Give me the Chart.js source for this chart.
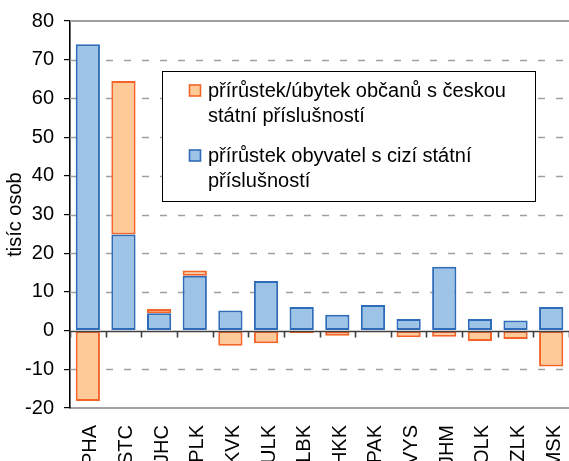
<!DOCTYPE html>
<html><head><meta charset="utf-8">
<script src="https://cdn.jsdelivr.net/npm/chart.js@4"></script>
<style>html,body{margin:0;padding:0;background:#fff;overflow:hidden}</style>
</head><body>
<canvas id="c" width="569" height="461" style="display:block;width:569px;height:461px"></canvas>
<script>
// ---- data ----
const categories = ['PHA','STC','JHC','PLK','KVK','ULK','LBK','HKK','PAK','VYS','JHM','OLK','ZLK','MSK'];
const foreignValues = [74.0, 24.8, 4.5, 14.2, 5.2, 12.8, 6.1, 4.1, 6.6, 3.0, 16.5, 3.0, 2.6, 6.1];
const citizenValues = [-18.2, 39.7, 1.1, 1.3, -3.9, -3.3, -0.7, -1.3, 0, -1.7, -1.6, -2.7, -2.2, -9.3];
const yTicks = [-20, -10, 0, 10, 20, 30, 40, 50, 60, 70, 80];
const citizenLabel = ['přírůstek/úbytek občanů s českou', 'státní příslušností'];
const foreignLabel = ['přírůstek obyvatel s cizí státní', 'příslušností'];
const yTitle = 'tisíc osob';

// ---- styles ----
const FONT = '"Liberation Sans", Arial, sans-serif';
const FS = 20;
const BLUE_FILL = '#9dc3e6', BLUE_LINE = '#2e6bb8';
const ORANGE_FILL = '#fdca98', ORANGE_LINE = '#f46428';

const decor = {
  id: 'decor',
  beforeDatasetsDraw(chart) {
    const {ctx, chartArea: a, scales: {y}} = chart;
    ctx.save();
    ctx.strokeStyle = '#a0a0a0';
    ctx.lineWidth = 1.3;
    ctx.setLineDash([7, 11]);
    yTicks.forEach(v => {
      if (v === 0 || v === y.max || v === y.min) return;
      const py = Math.round(y.getPixelForValue(v)) + 0.5;
      ctx.beginPath(); ctx.moveTo(a.left, py); ctx.lineTo(a.right, py); ctx.stroke();
    });
    ctx.setLineDash([]);
    ctx.lineWidth = 2;
    const pt = Math.round(y.getPixelForValue(y.max));
    ctx.beginPath(); ctx.moveTo(a.left, pt); ctx.lineTo(a.right, pt); ctx.stroke();
    ctx.restore();
  },
  afterDatasetsDraw(chart) {
    const {ctx, chartArea: a, scales: {x, y}} = chart;
    ctx.save();
    // zero line with tick marks
    const p0 = Math.round(y.getPixelForValue(0)) + 0.5;
    ctx.strokeStyle = '#404040';
    ctx.lineWidth = 1.6;
    ctx.beginPath(); ctx.moveTo(a.left, p0); ctx.lineTo(a.right, p0); ctx.stroke();
    for (let i = 0; i <= categories.length; i++) {
      const px = Math.round(x.getPixelForValue(i - 0.5)) + 0.5;
      ctx.beginPath(); ctx.moveTo(px, p0); ctx.lineTo(px, p0 + 6); ctx.stroke();
    }
    // legend
    const L = 162.5, T = 71.5, R = 535.5, B = 201.5;
    ctx.fillStyle = '#fff';
    ctx.fillRect(L, T, R - L, B - T);
    ctx.strokeStyle = '#000';
    ctx.lineWidth = 1;
    ctx.strokeRect(L, T, R - L, B - T);
    const items = [
      {lines: citizenLabel, fill: ORANGE_FILL, line: ORANGE_LINE, base: 97},
      {lines: foreignLabel, fill: BLUE_FILL, line: BLUE_LINE, base: 162}
    ];
    ctx.font = FS + 'px ' + FONT;
    ctx.textBaseline = 'alphabetic';
    ctx.textAlign = 'left';
    items.forEach(it => {
      ctx.fillStyle = it.fill;
      ctx.fillRect(189.5, it.base - 12, 11, 11);
      ctx.strokeStyle = it.line;
      ctx.lineWidth = 1.6;
      ctx.strokeRect(189.5, it.base - 12, 11, 11);
      ctx.fillStyle = '#000';
      it.lines.forEach((t, k) => ctx.fillText(t, 208, it.base + k * 25));
    });
    ctx.restore();
  }
};

new Chart(document.getElementById('c'), {
  type: 'bar',
  data: {
    labels: categories,
    datasets: [
      {label: foreignLabel.join(' '), data: foreignValues, backgroundColor: BLUE_FILL, borderColor: BLUE_LINE, borderWidth: 2, borderSkipped: false},
      {label: citizenLabel.join(' '), data: citizenValues, backgroundColor: ORANGE_FILL, borderColor: ORANGE_LINE, borderWidth: 2, borderSkipped: false}
    ]
  },
  options: {
    responsive: false,
    animation: false,
    events: [],
    layout: {padding: {top: 21, right: 0, left: 0, bottom: 0}},
    datasets: {bar: {categoryPercentage: 1, barPercentage: 0.68}},
    plugins: {legend: {display: false}, tooltip: {enabled: false}},
    scales: {
      x: {
        stacked: true,
        grid: {display: false, drawTicks: false},
        border: {display: true, color: '#a0a0a0', width: 2},
        ticks: {minRotation: 90, maxRotation: 90, padding: 17, labelOffset: 3, color: '#000', font: {family: FONT, size: FS}},
        afterFit(s) { s.height = 53; s.paddingLeft = 0; s.paddingRight = 0; }
      },
      y: {
        stacked: true,
        min: -20, max: 80,
        afterBuildTicks(s) { s.ticks = yTicks.map(v => ({value: v})); },
        grid: {display: true, drawOnChartArea: false, drawTicks: true, tickLength: 6, color: '#000', lineWidth: 1.2},
        border: {display: true, color: '#000', width: 1.6},
        ticks: {padding: 10, color: '#000', font: {family: FONT, size: FS}},
        title: {display: true, text: yTitle, color: '#000', font: {family: FONT, size: FS}, padding: {top: 3, bottom: 0}},
        afterFit(s) { s.width = 70; s.paddingTop = 0; s.paddingBottom = 0; }
      }
    }
  },
  plugins: [decor]
});
</script>
</body></html>
